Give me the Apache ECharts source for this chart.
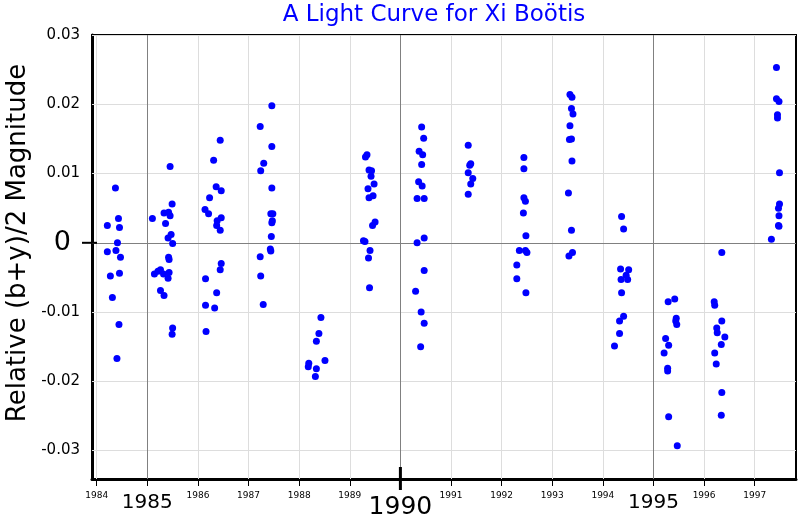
<!DOCTYPE html>
<html>
<head>
<meta charset="utf-8">
<script src="https://cdn.jsdelivr.net/npm/echarts@6/dist/echarts.min.js"></script>
<style>
html,body{margin:0;padding:0;background:#fff;}
#chart{width:800px;height:520px;}
</style>
</head>
<body>
<div id="chart"></div>
<script>
// Observation epochs (decimal year) and relative (b+y)/2 magnitudes
var obsYear = [
  1984.37,1984.43,1984.21,1984.45,1984.41,1984.21,1984.38,1984.47,1984.45,1984.27,1984.31,1984.44,1984.40,
  1985.45,1985.49,1985.10,1985.33,1985.42,1985.45,1985.36,1985.47,1985.41,1985.50,1985.42,1985.43,1985.14,1985.21,1985.26,1985.32,1985.43,1985.41,1985.26,1985.33,1985.50,1985.49,
  1986.44,1986.31,1986.36,1986.46,1986.23,1986.14,1986.21,1986.46,1986.38,1986.37,1986.44,1986.46,1986.44,1986.15,1986.37,1986.15,1986.33,1986.16,
  1987.46,1987.23,1987.46,1987.30,1987.24,1987.46,1987.44,1987.48,1987.47,1987.46,1987.45,1987.43,1987.44,1987.23,1987.24,1987.29,
  1988.43,1988.39,1988.34,1988.51,1988.19,1988.18,1988.34,1988.32,
  1989.34,1989.31,1989.38,1989.43,1989.42,1989.48,1989.36,1989.46,1989.38,1989.50,1989.45,1989.27,1989.30,1989.40,1989.37,1989.39,
  1990.42,1990.46,1990.37,1990.44,1990.42,1990.36,1990.43,1990.33,1990.47,1990.47,1990.33,1990.47,1990.30,1990.41,1990.47,1990.40,
  1991.34,1991.39,1991.37,1991.34,1991.43,1991.39,1991.34,
  1992.44,1992.44,1992.44,1992.47,1992.43,1992.48,1992.35,1992.47,1992.50,1992.30,1992.30,1992.48,
  1993.35,1993.39,1993.38,1993.41,1993.35,1993.34,1993.38,1993.39,1993.32,1993.38,1993.33,1993.40,
  1994.37,1994.41,1994.35,1994.51,1994.46,1994.36,1994.49,1994.37,1994.41,1994.33,1994.33,1994.23,
  1995.42,1995.29,1995.45,1995.44,1995.46,1995.24,1995.30,1995.21,1995.28,1995.28,1995.30,1995.47,
  1996.35,1996.20,1996.21,1996.35,1996.25,1996.26,1996.41,1996.34,1996.21,1996.24,1996.35,1996.34,
  1997.43,1997.43,1997.48,1997.45,1997.45,1997.49,1997.49,1997.47,1997.48,1997.47,1997.48,1997.33
];
var obsMag = [
  0.0079,0.0035,0.0025,0.0022,0.0000,-0.0013,-0.0011,-0.0021,-0.0044,-0.0048,-0.0079,-0.0118,-0.0167,
  0.0110,0.0056,0.0035,0.0043,0.0044,0.0039,0.0028,0.0012,0.0007,-0.0001,-0.0021,-0.0024,-0.0045,-0.0041,-0.0039,-0.0045,-0.0043,-0.0051,-0.0069,-0.0076,-0.0123,-0.0132,
  0.0148,0.0119,0.0081,0.0075,0.0065,0.0048,0.0042,0.0036,0.0032,0.0025,0.0018,-0.0030,-0.0039,-0.0052,-0.0072,-0.0090,-0.0094,-0.0128,
  0.0198,0.0168,0.0139,0.0115,0.0104,0.0079,0.0042,0.0042,0.0032,0.0029,0.0009,-0.0009,-0.0012,-0.0020,-0.0048,-0.0089,
  -0.0108,-0.0131,-0.0142,-0.0170,-0.0174,-0.0179,-0.0182,-0.0193,
  0.0127,0.0124,0.0105,0.0104,0.0096,0.0085,0.0078,0.0068,0.0065,0.0030,0.0025,0.0003,0.0002,-0.0011,-0.0022,-0.0065,
  0.0167,0.0151,0.0132,0.0127,0.0113,0.0088,0.0082,0.0064,0.0064,0.0007,0.0000,-0.0040,-0.0070,-0.0100,-0.0116,-0.0150,
  0.0141,0.0114,0.0112,0.0101,0.0093,0.0085,0.0070,
  0.0123,0.0107,0.0065,0.0060,0.0043,0.0010,-0.0011,-0.0011,-0.0014,-0.0032,-0.0052,-0.0072,
  0.0214,0.0210,0.0194,0.0186,0.0169,0.0149,0.0150,0.0118,0.0072,0.0018,-0.0019,-0.0014,
  0.0038,0.0020,-0.0038,-0.0039,-0.0047,-0.0053,-0.0053,-0.0072,-0.0106,-0.0113,-0.0131,-0.0149,
  -0.0081,-0.0085,-0.0109,-0.0113,-0.0118,-0.0138,-0.0148,-0.0159,-0.0181,-0.0185,-0.0251,-0.0293,
  -0.0014,-0.0085,-0.0090,-0.0113,-0.0123,-0.0130,-0.0136,-0.0147,-0.0159,-0.0175,-0.0216,-0.0249,
  0.0253,0.0208,0.0204,0.0185,0.0180,0.0101,0.0056,0.0050,0.0039,0.0025,0.0024,0.0005
];
var xTicks = [1984,1985,1986,1987,1988,1989,1990,1991,1992,1993,1994,1995,1996,1997];
var majorYears = [1985,1990,1995];
var centerYear = 1990;
var yTicks = [-0.03,-0.02,-0.01,0,0.01,0.02,0.03];
var titleText = 'A Light Curve for Xi Bo\u00f6tis';
var yName = 'Relative (b+y)/2 Magnitude';

var X_MIN = 1983.907, X_MAX = 1997.816;
var Y_MIN = -0.0341, Y_MAX = 0.030;

var points = obsYear.map(function (x, i) { return [x, obsMag[i]]; });

var FONT = 'DejaVu Sans';
var chart = echarts.init(document.getElementById('chart'), null, {renderer: 'canvas'});

var gridLines = [];
xTicks.forEach(function (v) {
  if (majorYears.indexOf(v) < 0) gridLines.push({xAxis: v, lineStyle: {color: '#dddddd', width: 1, type: 'solid'}});
});
yTicks.forEach(function (v) {
  if (v !== 0) gridLines.push({yAxis: v, lineStyle: {color: '#dddddd', width: 1, type: 'solid'}});
});
majorYears.forEach(function (v) {
  gridLines.push({xAxis: v, lineStyle: {color: '#808080', width: 1, type: 'solid'}});
});
gridLines.push({yAxis: 0, lineStyle: {color: '#808080', width: 1, type: 'solid'}});

chart.setOption({
  animation: false,
  backgroundColor: '#ffffff',
  grid: {left: 92, right: 4, top: 35, bottom: 41, show: true, borderColor: '#000', borderWidth: 2, backgroundColor: 'transparent'},
  graphic: [
    {id: 'title', type: 'text', x: 434, y: 15, z: 10,
     style: {text: titleText, fill: '#0000ff', font: '23px "DejaVu Sans"', textAlign: 'center', textVerticalAlign: 'middle'}},
    {id: 'yname', type: 'text', x: 18, y: 243, rotation: Math.PI / 2, z: 10,
     style: {text: yName, fill: '#000', font: '26px "DejaVu Sans"', textAlign: 'center', textVerticalAlign: 'middle'}}
  ],
  xAxis: {
    type: 'value', min: X_MIN, max: X_MAX,
    axisLine: {show: true, onZero: false, lineStyle: {color: '#000', width: 3}},
    axisTick: {show: true, customValues: xTicks, length: 7, lineStyle: {color: '#000', width: 1}},
    splitLine: {show: false},
    axisLabel: {
      customValues: xTicks, margin: 11, color: '#000', fontFamily: FONT,
      formatter: function (v) {
        var y = Math.round(v);
        if (y === 1990) return '{h|' + y + '}';
        if (y === 1985 || y === 1995) return '{m|' + y + '}';
        return '{s|' + y + '}';
      },
      rich: {
        h: {fontSize: 25, fontFamily: FONT, color: '#000', lineHeight: 25, padding: [9, 0, 0, 0]},
        m: {fontSize: 20, fontFamily: FONT, color: '#000', lineHeight: 20, padding: [5, 0, 0, 0]},
        s: {fontSize: 9, fontFamily: FONT, color: '#000', lineHeight: 12}
      }
    }
  },
  yAxis: {
    type: 'value', min: Y_MIN, max: Y_MAX,
    axisLine: {show: true, onZero: false, lineStyle: {color: '#000', width: 3}},
    axisTick: {show: false},
    splitLine: {show: false},
    axisLabel: {
      customValues: yTicks, margin: 12, color: '#000', fontFamily: FONT,
      formatter: function (v) {
        if (Math.abs(v) < 1e-9) return '{z|0}';
        return '{n|' + v.toFixed(2) + '}';
      },
      rich: {
        z: {fontSize: 27, fontFamily: FONT, color: '#000', padding: [0, 9, 0, 0]},
        n: {fontSize: 15, fontFamily: FONT, color: '#000'}
      }
    }
  },
  series: [
    {
      type: 'line', data: [], z: 1, silent: true,
      markLine: {silent: true, symbol: ['none', 'none'], label: {show: false}, animation: false, data: gridLines}
    },
    {
      type: 'scatter', z: 5, data: points, symbol: 'circle', symbolSize: 7,
      itemStyle: {color: '#0000ff', opacity: 1}
    }
  ]
});

// Special tick marks positioned through the axes' own scales
var pBig = chart.convertToPixel({gridIndex: 0}, [centerYear, Y_MIN]);
var pZero = chart.convertToPixel({gridIndex: 0}, [X_MIN, 0]);
chart.setOption({
  graphic: [
    {id: 'bigTick', type: 'line', z: 20, silent: true,
     shape: {x1: pBig[0], y1: pBig[1] - 12, x2: pBig[0], y2: pBig[1] + 11},
     style: {stroke: '#000', lineWidth: 3}},
    {id: 'zeroTick', type: 'line', z: 20, silent: true,
     shape: {x1: pZero[0] - 10, y1: pZero[1], x2: pZero[0] + 5, y2: pZero[1]},
     style: {stroke: '#000', lineWidth: 2}}
  ]
});
</script>
</body>
</html>
